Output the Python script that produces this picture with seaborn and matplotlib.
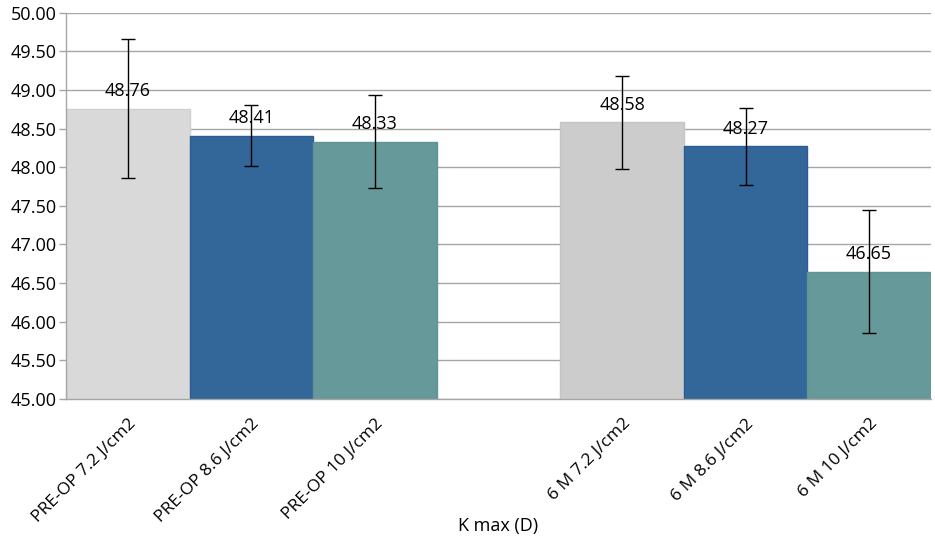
import numpy as np
import pandas as pd
import matplotlib.pyplot as plt
import seaborn as sns
from matplotlib.ticker import FixedLocator

sns.set_theme(style="white")
plt.rcParams['font.family'] = ['Open Sans', 'DejaVu Sans']
plt.rcParams['text.color'] = 'black'
plt.rcParams['xtick.color'] = 'black'
plt.rcParams['ytick.color'] = 'black'
plt.rcParams['axes.labelcolor'] = 'black'

# data
groups = ["PRE-OP 7.2 J/cm2", "PRE-OP 8.6 J/cm2", "PRE-OP 10 J/cm2",
          "6 M 7.2 J/cm2", "6 M 8.6 J/cm2", "6 M 10 J/cm2"]
kmax = [48.76, 48.41, 48.33, 48.58, 48.27, 46.65]
sd = [0.90, 0.40, 0.60, 0.60, 0.50, 0.80]
order = groups[:3] + [" "] + groups[3:]

bar_colors = ["#d9d9d9", "#336699", "#669999", "#cccccc", "#336699", "#669999"]
edge_colors = ["#d0d0d0", "#2b5d94", "#5f9595", "#c4c4c4", "#2b5d94", "#5f9595"]

df = pd.DataFrame({"group": groups, "kmax": kmax, "sd": sd})

fig = plt.figure(figsize=(9.35, 5.45), dpi=100)
ax = fig.add_axes([0.0706, 0.268, 0.925, 0.7085])

sns.barplot(data=df, x="group", y="kmax", hue="group", order=order,
            hue_order=groups, palette=dict(zip(groups, bar_colors)),
            saturation=1, width=1.0, dodge=False, legend=False,
            errorbar=None, ax=ax, zorder=2)

# match patches to groups
bars = [p for p in ax.patches if p.get_height() > 0]
bars.sort(key=lambda p: p.get_x())
for p, ec, m, s in zip(bars, edge_colors, kmax, sd):
    p.set_edgecolor(ec)
    p.set_linewidth(1.0)
    xc = p.get_x() + p.get_width() / 2
    ax.errorbar(xc, m, yerr=s, fmt="none", ecolor="black", elinewidth=1.0,
                capsize=5, capthick=1.0, zorder=4)
    ax.annotate(f"{m:.2f}", (xc, m), xytext=(0, 6), textcoords="offset points",
                ha="center", va="bottom", fontsize=13, color="black", zorder=5)

ax.set_ylim(45, 50)
ax.set_yticks(np.arange(45, 50.01, 0.5))
ax.set_yticklabels([f"{v:.2f}" for v in np.arange(45, 50.01, 0.5)], fontsize=13)
ax.yaxis.grid(True, color="#a6a6a6", linewidth=1.0, zorder=0)
ax.set_axisbelow(True)

ax.set_xlim(-0.5, len(order) - 0.5)
ax.set_xticks(range(len(order)))
ax.set_xticklabels(order, rotation=45, ha="right", rotation_mode="anchor",
                   fontsize=12.5)
ax.xaxis.set_minor_locator(FixedLocator(np.arange(-0.5, len(order), 1.0)))
ax.tick_params(axis="x", which="major", length=0, pad=12)
ax.tick_params(axis="x", which="minor", length=5, color="#a6a6a6", width=1.0)
ax.tick_params(axis="y", which="major", length=5, color="#a6a6a6", width=1.0,
               left=True, pad=2, labelcolor="black")

ax.set_xlabel("K max (D)", fontsize=13, labelpad=-6)
ax.set_ylabel("")

for side in ["top", "right"]:
    ax.spines[side].set_visible(False)
for side in ["left", "bottom"]:
    ax.spines[side].set_color("#a6a6a6")
    ax.spines[side].set_linewidth(1.0)

fig.savefig("out.png", dpi=100)
